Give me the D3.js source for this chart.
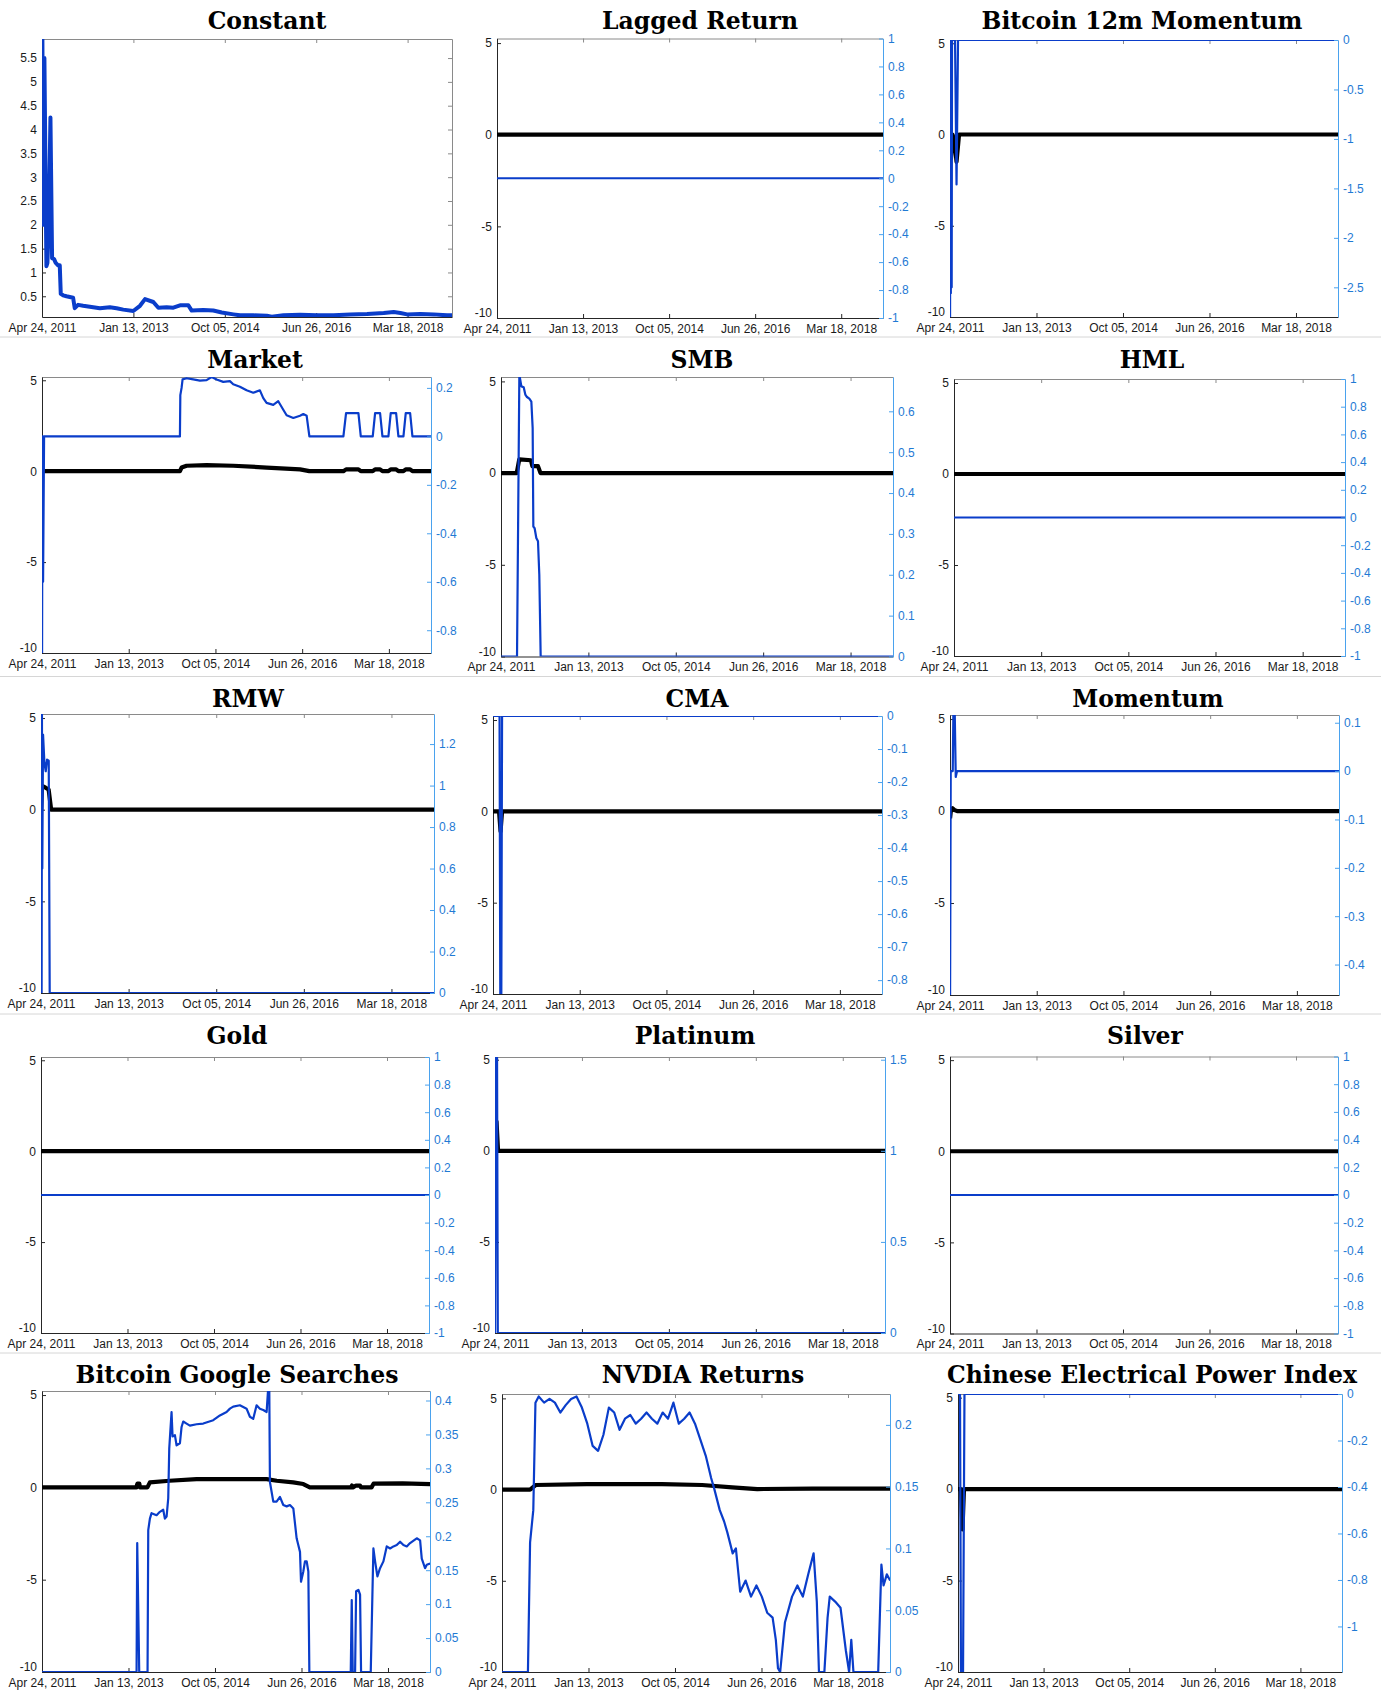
<!DOCTYPE html>
<html>
<head>
<meta charset="utf-8">
<script src="https://cdn.jsdelivr.net/npm/d3@7/dist/d3.min.js"></script>
<style>
    body { margin: 0; background: #fff; }
    svg { display: block; font-family: "Liberation Sans", Arial, sans-serif; }
    .panel-title { font-family: "DejaVu Serif", serif; font-weight: bold; font-size: 23.5px; text-anchor: middle; fill: #000; }
</style>
</head>
<body>
<svg id="chart" width="1381" height="1690"></svg>
<script>
// ---- data (x = decimal year, y = value) ----
const tickDates = ['2011-04-24', '2013-01-13', '2014-10-05', '2016-06-26', '2018-03-18'];
const tickLabels = ['Apr 24, 2011', 'Jan 13, 2013', 'Oct 05, 2014', 'Jun 26, 2016', 'Mar 18, 2018'];
const titles = ['Constant', 'Lagged Return', 'Bitcoin 12m Momentum', 'Market', 'SMB', 'HML',
    'RMW', 'CMA', 'Momentum', 'Gold', 'Platinum', 'Silver',
    'Bitcoin Google Searches', 'NVDIA Returns', 'Chinese Electrical Power Index'];

const flatZero = [[2011.31, 0], [2019.05, 0]];

const constantCoef = [[2011.311, 6.2], [2011.317, 5.9], [2011.336, 2.0], [2011.355, 5.5], [2011.393, 1.13],
    [2011.412, 1.2], [2011.437, 2.0], [2011.469, 4.25], [2011.500, 1.3], [2011.538, 1.28], [2011.569, 1.2],
    [2011.613, 1.15], [2011.645, 1.15], [2011.664, 0.55], [2011.708, 0.52], [2011.771, 0.5], [2011.897, 0.47],
    [2011.928, 0.25], [2011.991, 0.32], [2012.086, 0.3], [2012.212, 0.28], [2012.401, 0.25], [2012.590, 0.27],
    [2012.716, 0.25], [2012.842, 0.22], [2013.031, 0.19], [2013.157, 0.3], [2013.252, 0.44], [2013.409, 0.38],
    [2013.504, 0.26], [2013.661, 0.27], [2013.787, 0.26], [2013.913, 0.31], [2014.071, 0.31], [2014.134, 0.2],
    [2014.354, 0.21], [2014.543, 0.2], [2014.701, 0.16], [2014.921, 0.12], [2015.047, 0.1], [2015.299, 0.1],
    [2015.552, 0.09], [2015.646, 0.07], [2015.866, 0.1], [2016.181, 0.11], [2016.496, 0.1], [2016.811, 0.1],
    [2017.127, 0.12], [2017.442, 0.13], [2017.757, 0.15], [2017.946, 0.17], [2018.072, 0.15], [2018.198, 0.12],
    [2018.450, 0.13], [2018.701, 0.12], [2018.953, 0.1], [2019.05, 0.1]];

const laggedCoef = flatZero;
const laggedWeight = flatZero;

const btcMomCoef = [[2011.311, 0], [2011.33, -1.3], [2011.36, 0], [2011.40, -0.4], [2011.44, -1.5], [2011.49, 0], [2019.05, 0]];
const btcMomWeight = [[2011.311, -2.8], [2011.318, 0], [2011.326, -2.56], [2011.335, 0], [2011.343, -2.5], [2011.35, 0],
    [2011.41, 0], [2011.44, -1.46], [2011.47, 0], [2019.05, 0]];

const marketCoef = [[2011.311, 0], [2014.052, 0], [2014.085, 0.2], [2014.184, 0.3], [2014.583, 0.33], [2015.113, 0.3],
    [2015.777, 0.2], [2016.441, 0.1], [2016.627, 0], [2017.303, 0], [2017.356, 0.1], [2017.602, 0.1], [2017.649, 0],
    [2017.887, 0], [2017.934, 0.1], [2018.033, 0.1], [2018.08, 0], [2018.199, 0], [2018.245, 0.1], [2018.352, 0.1],
    [2018.398, 0], [2018.498, 0], [2018.544, 0.1], [2018.631, 0.1], [2018.677, 0], [2019.05, 0]];
const marketWeight = [[2011.311, -0.9], [2011.318, 0], [2011.331, -0.6], [2011.351, 0], [2014.052, 0], [2014.06, 0.17],
    [2014.085, 0.2], [2014.105, 0.235], [2014.184, 0.24], [2014.317, 0.235], [2014.45, 0.23], [2014.583, 0.232],
    [2014.682, 0.245], [2014.782, 0.235], [2014.915, 0.225], [2015.047, 0.228], [2015.113, 0.215], [2015.246, 0.205],
    [2015.379, 0.19], [2015.512, 0.18], [2015.644, 0.19], [2015.711, 0.158], [2015.777, 0.138], [2015.91, 0.13],
    [2016.009, 0.145], [2016.109, 0.11], [2016.175, 0.087], [2016.308, 0.076], [2016.441, 0.085], [2016.507, 0.092],
    [2016.573, 0.085], [2016.627, 0], [2017.303, 0], [2017.356, 0.096], [2017.602, 0.096], [2017.649, 0],
    [2017.887, 0], [2017.934, 0.096], [2018.033, 0.096], [2018.08, 0], [2018.199, 0], [2018.245, 0.096],
    [2018.352, 0.096], [2018.398, 0], [2018.498, 0], [2018.544, 0.096], [2018.631, 0.096], [2018.677, 0], [2019.05, 0]];

const smbCoef = [[2011.311, 0], [2011.62, 0], [2011.67, 0.75], [2011.90, 0.7], [2011.93, 0.38], [2012.04, 0.38], [2012.09, 0], [2019.05, 0]];
const smbWeight = [[2011.311, 0], [2011.626, 0], [2011.672, 0.69], [2011.712, 0.661], [2011.758, 0.659], [2011.790, 0.641],
    [2011.823, 0.635], [2011.869, 0.631], [2011.909, 0.624], [2011.935, 0.559], [2011.948, 0.318], [2011.974, 0.314],
    [2012.007, 0.29], [2012.040, 0.282], [2012.066, 0.2], [2012.093, 0], [2019.05, 0]];

const hmlCoef = flatZero;
const hmlWeight = flatZero;

const rmwCoef = [[2011.311, 0], [2011.33, 1.3], [2011.40, 1.2], [2011.46, 1.1], [2011.51, 0], [2019.05, 0]];
const rmwWeight = [[2011.311, 0], [2011.315, 1.35], [2011.322, 0], [2011.328, 1.35], [2011.335, 0.6], [2011.350, 1.246],
    [2011.377, 1.109], [2011.403, 1.069], [2011.429, 1.125], [2011.462, 1.12], [2011.481, 0], [2019.05, 0]];

const cmaCoef = [[2011.311, 0], [2011.43, 0], [2011.46, -1.1], [2011.49, 0], [2019.05, 0]];
const cmaWeight = [[2011.311, 0], [2011.44, 0], [2011.455, -0.85], [2011.475, -0.85], [2011.49, 0], [2019.05, 0]];

const momCoef = [[2011.311, -0.4], [2011.33, 0.1], [2011.36, 0.15], [2011.40, 0.05], [2011.45, 0], [2019.05, 0]];
const momWeight = [[2011.311, -0.47], [2011.324, 0], [2011.364, 0], [2011.377, 0.12], [2011.404, 0.12],
    [2011.424, -0.012], [2011.45, 0], [2019.05, 0]];

const goldCoef = flatZero;
const goldWeight = flatZero;

const platinumCoef = [[2011.311, 0], [2011.34, 1.6], [2011.37, 0], [2019.05, 0]];
const platinumWeight = [[2011.311, 0], [2011.325, 1.52], [2011.35, 1.52], [2011.365, 0], [2019.05, 0]];

const silverCoef = flatZero;
const silverWeight = flatZero;

const googleCoef = [[2011.311, 0], [2013.19, 0], [2013.21, 0.2], [2013.25, 0.2], [2013.26, 0], [2013.41, 0], [2013.46, 0.27],
    [2013.85, 0.36], [2014.39, 0.45], [2015.79, 0.45], [2015.99, 0.36], [2016.32, 0.27], [2016.52, 0.18], [2016.65, 0],
    [2017.47, 0], [2017.49, 0.1], [2017.51, 0], [2017.57, 0.1], [2017.65, 0.1], [2017.67, 0], [2017.88, 0],
    [2017.92, 0.2], [2018.5, 0.22], [2019.05, 0.18]];
const googleWeight = [[2011.311, 0], [2013.194, 0], [2013.207, 0.19], [2013.247, 0], [2013.413, 0], [2013.427, 0.209],
    [2013.460, 0.226], [2013.493, 0.234], [2013.593, 0.231], [2013.659, 0.236], [2013.726, 0.239], [2013.759, 0.226],
    [2013.793, 0.229], [2013.826, 0.256], [2013.846, 0.329], [2013.892, 0.383], [2013.912, 0.347], [2013.959, 0.349],
    [2013.992, 0.334], [2014.059, 0.337], [2014.092, 0.361], [2014.125, 0.369], [2014.192, 0.366], [2014.258, 0.363],
    [2014.391, 0.365], [2014.524, 0.366], [2014.724, 0.371], [2014.857, 0.378], [2014.990, 0.383], [2015.057, 0.388],
    [2015.123, 0.391], [2015.256, 0.393], [2015.389, 0.388], [2015.456, 0.376], [2015.522, 0.373], [2015.589, 0.393],
    [2015.655, 0.388], [2015.722, 0.386], [2015.789, 0.383], [2015.822, 0.42], [2015.842, 0.42], [2015.855, 0.28],
    [2015.922, 0.251], [2015.988, 0.251], [2016.055, 0.258], [2016.121, 0.246], [2016.188, 0.244], [2016.254, 0.246],
    [2016.321, 0.241], [2016.387, 0.197], [2016.420, 0.187], [2016.454, 0.177], [2016.474, 0.133], [2016.520, 0.148],
    [2016.553, 0.163], [2016.587, 0.163], [2016.620, 0.148], [2016.640, 0], [2017.465, 0], [2017.485, 0.106],
    [2017.505, 0], [2017.552, 0], [2017.572, 0.119], [2017.618, 0.121], [2017.651, 0.114], [2017.671, 0],
    [2017.864, 0], [2017.917, 0.182], [2017.951, 0.163], [2017.997, 0.141], [2018.050, 0.153], [2018.117, 0.163],
    [2018.183, 0.185], [2018.250, 0.182], [2018.317, 0.185], [2018.383, 0.187], [2018.450, 0.192], [2018.516, 0.187],
    [2018.583, 0.185], [2018.649, 0.19], [2018.782, 0.197], [2018.849, 0.194], [2018.882, 0.167], [2018.948, 0.153],
    [2018.982, 0.158], [2019.05, 0.16]];

const nvidiaCoef = [[2011.311, 0], [2011.87, 0], [2011.98, 0.25], [2013.0, 0.3], [2014.5, 0.3], [2015.3, 0.25],
    [2015.9, 0.12], [2016.4, 0.03], [2017.5, 0.05], [2019.05, 0.05]];
const nvidiaWeight = [[2011.311, 0], [2011.827, 0], [2011.870, 0.105], [2011.934, 0.131], [2011.977, 0.218],
    [2012.042, 0.223], [2012.149, 0.218], [2012.257, 0.221], [2012.364, 0.218], [2012.472, 0.21], [2012.579, 0.216],
    [2012.686, 0.221], [2012.794, 0.223], [2012.901, 0.214], [2013.009, 0.201], [2013.116, 0.183], [2013.224, 0.179],
    [2013.331, 0.192], [2013.439, 0.214], [2013.546, 0.21], [2013.653, 0.196], [2013.761, 0.205], [2013.868, 0.208],
    [2013.976, 0.201], [2014.083, 0.205], [2014.191, 0.21], [2014.298, 0.205], [2014.406, 0.201], [2014.513, 0.21],
    [2014.620, 0.205], [2014.728, 0.218], [2014.835, 0.201], [2014.943, 0.205], [2015.050, 0.21], [2015.158, 0.201],
    [2015.265, 0.188], [2015.373, 0.175], [2015.480, 0.157], [2015.544, 0.148], [2015.652, 0.131], [2015.738, 0.122],
    [2015.803, 0.113], [2015.910, 0.096], [2015.974, 0.1], [2016.060, 0.065], [2016.168, 0.074], [2016.275, 0.061],
    [2016.383, 0.07], [2016.490, 0.061], [2016.597, 0.048], [2016.705, 0.044], [2016.769, 0.026], [2016.812, 0.003],
    [2016.855, 0], [2016.95, 0.04], [2017.092, 0.061], [2017.199, 0.07], [2017.307, 0.061], [2017.414, 0.079],
    [2017.522, 0.096], [2017.586, 0.057], [2017.629, 0], [2017.737, 0], [2017.801, 0.044], [2017.844, 0.061],
    [2017.952, 0.057], [2018.059, 0.052], [2018.167, 0.017], [2018.231, 0], [2018.274, 0.026], [2018.317, 0],
    [2018.811, 0], [2018.875, 0.087], [2018.918, 0.07], [2018.983, 0.079], [2019.05, 0.074]];

const chinaCoef = [[2011.311, 0], [2011.37, 0], [2011.40, -2.2], [2011.43, 0], [2019.05, 0]];
const chinaWeight = [[2011.311, 0], [2011.35, 0], [2011.37, -1.25], [2011.41, -1.25], [2011.44, 0], [2019.05, 0]];

const leftTicks = [-10, -5, 0, 5];
const constantTicks = [0.5, 1, 1.5, 2, 2.5, 3, 3.5, 4, 4.5, 5, 5.5];
const unitTicks = [-1, -0.8, -0.6, -0.4, -0.2, 0, 0.2, 0.4, 0.6, 0.8, 1];

// ---- layout ----
const panels = [
    { x0: 42, x1: 452, y0: 39, y1: 317, tx: 267, ty: 29, left: [0.065, 5.9], lTicks: constantTicks, coef: null, weight: constantCoef, single: true },
    { x0: 497, x1: 883, y0: 38.5, y1: 318, tx: 700, ty: 29, left: [-10, 5.25], right: [-1, 1], rTicks: unitTicks, coef: laggedCoef, weight: laggedWeight },
    { x0: 950, x1: 1338, y0: 40, y1: 317, tx: 1142, ty: 28.5, left: [-10, 5.18], right: [-2.8, 0], rTicks: [-2.5, -2, -1.5, -1, -0.5, 0], coef: btcMomCoef, weight: btcMomWeight },
    { x0: 42, x1: 431, y0: 377, y1: 653, tx: 255, ty: 368, left: [-10, 5.18], right: [-0.894, 0.245], rTicks: [-0.8, -0.6, -0.4, -0.2, 0, 0.2], coef: marketCoef, weight: marketWeight },
    { x0: 501, x1: 893, y0: 377, y1: 656.5, tx: 702, ty: 368, left: [-10, 5.24], right: [0, 0.684], rTicks: [0, 0.1, 0.2, 0.3, 0.4, 0.5, 0.6], coef: smbCoef, weight: smbWeight },
    { x0: 954, x1: 1345, y0: 379, y1: 656, tx: 1152, ty: 368, left: [-10, 5.22], right: [-1, 1], rTicks: unitTicks, coef: hmlCoef, weight: hmlWeight },
    { x0: 41, x1: 434, y0: 714, y1: 993, tx: 248, ty: 707, left: [-10, 5.22], right: [0, 1.345], rTicks: [0, 0.2, 0.4, 0.6, 0.8, 1, 1.2], coef: rmwCoef, weight: rmwWeight },
    { x0: 493, x1: 882, y0: 716, y1: 994, tx: 697, ty: 707, left: [-10, 5.22], right: [-0.842, 0], rTicks: [-0.8, -0.7, -0.6, -0.5, -0.4, -0.3, -0.2, -0.1, 0], coef: cmaCoef, weight: cmaWeight },
    { x0: 950, x1: 1339, y0: 715, y1: 995, tx: 1148, ty: 707, left: [-10, 5.22], right: [-0.463, 0.116], rTicks: [-0.4, -0.3, -0.2, -0.1, 0, 0.1], coef: momCoef, weight: momWeight },
    { x0: 41, x1: 429, y0: 1057, y1: 1333, tx: 237, ty: 1044, left: [-10, 5.18], right: [-1, 1], rTicks: unitTicks, coef: goldCoef, weight: goldWeight },
    { x0: 495, x1: 885, y0: 1057, y1: 1333, tx: 695, ty: 1044, left: [-10, 5.15], right: [0, 1.515], rTicks: [0, 0.5, 1, 1.5], coef: platinumCoef, weight: platinumWeight },
    { x0: 950, x1: 1338, y0: 1056.5, y1: 1333.5, tx: 1145, ty: 1044, left: [-10, 5.2], right: [-1, 1], rTicks: unitTicks, coef: silverCoef, weight: silverWeight },
    { x0: 42, x1: 430, y0: 1391, y1: 1672, tx: 237, ty: 1383, left: [-10, 5.22], right: [0, 0.414], rTicks: [0, 0.05, 0.1, 0.15, 0.2, 0.25, 0.3, 0.35, 0.4], coef: googleCoef, weight: googleWeight },
    { x0: 502, x1: 890, y0: 1394, y1: 1672, tx: 703, ty: 1383, left: [-10, 5.24], right: [0, 0.225], rTicks: [0, 0.05, 0.1, 0.15, 0.2], coef: nvidiaCoef, weight: nvidiaWeight },
    { x0: 958, x1: 1342, y0: 1394, y1: 1672, tx: 1152, ty: 1383, left: [-10, 5.2], right: [-1.196, 0], rTicks: [-1, -0.8, -0.6, -0.4, -0.2, 0], coef: chinaCoef, weight: chinaWeight },
];

const BLUE = '#0a3dca';
const AXIS_BLUE = '#4aa2ee';
const LABEL_BLUE = '#1f7ad4';
const xDomain = [new Date(2011, 3, 24), new Date(2019, 0, 18)];
const parseDay = d3.timeParse('%Y-%m-%d');
const fmt = d => String(+d.toFixed(2));

const svg = d3.select('#chart');

// faint frames of the pasted screenshots
[337, 676.5, 1014, 1353].forEach(y => {
    svg.append('line').attr('x1', 0).attr('x2', 1381).attr('y1', y).attr('y2', y)
        .attr('stroke', '#d6d6d6').attr('stroke-width', 1);
});

panels.forEach((p, i) => drawPanel(p, i));

function yearToDate(y) {
    const yr = Math.floor(y);
    const a = new Date(yr, 0, 1), b = new Date(yr + 1, 0, 1);
    return new Date(+a + (y - yr) * (b - a));
}

function styleAxis(g, lineColor, textColor) {
    g.attr('font-family', '"Liberation Sans", Arial, sans-serif').attr('font-size', 12);
    g.select('.domain').attr('stroke', lineColor).attr('stroke-width', 1);
    g.selectAll('.tick line').attr('stroke', lineColor);
    g.selectAll('.tick text').attr('fill', textColor);
}

function drawPanel(p, i) {
    const x = d3.scaleTime().domain(xDomain).range([p.x0, p.x1]);
    const yL = d3.scaleLinear().domain(p.left).range([p.y1, p.y0]);
    const g = svg.append('g').attr('class', 'panel');

    const clipId = 'clip' + i;
    g.append('clipPath').attr('id', clipId).append('rect')
        .attr('x', p.x0).attr('y', p.y0).attr('width', p.x1 - p.x0).attr('height', p.y1 - p.y0);

    g.append('text').attr('class', 'panel-title').attr('x', p.tx).attr('y', p.ty).text(titles[i]);

    const dates = tickDates.map(parseDay);

    // top border with ticks
    const top = g.append('g').attr('transform', `translate(0,${p.y0})`)
        .call(d3.axisTop(x).tickValues(dates).tickFormat('').tickSizeInner(-4).tickSizeOuter(0));
    styleAxis(top, '#8a8a8a', '#000');

    const bottom = g.append('g').attr('transform', `translate(0,${p.y1})`)
        .call(d3.axisBottom(x).tickValues(dates).tickFormat((d, j) => tickLabels[j])
            .tickSizeInner(-4).tickSizeOuter(0).tickPadding(6));
    styleAxis(bottom, '#262626', '#1a1a1a');

    const leftAx = g.append('g').attr('transform', `translate(${p.x0},0)`)
        .call(d3.axisLeft(yL).tickValues(p.lTicks || leftTicks).tickFormat(fmt)
            .tickSizeInner(-4).tickSizeOuter(0).tickPadding(5));
    styleAxis(leftAx, '#262626', '#1a1a1a');
    // lift the bottom "-10" label clear of the first date label
    leftAx.selectAll('.tick text').filter(d => d === -10).attr('dy', '-0.12em');

    const lineG = g.append('g').attr('clip-path', `url(#${clipId})`);

    if (p.single) {
        const rightAx = g.append('g').attr('transform', `translate(${p.x1},0)`)
            .call(d3.axisRight(yL).tickValues(p.lTicks).tickFormat('').tickSizeInner(-4).tickSizeOuter(0));
        styleAxis(rightAx, '#8a8a8a', '#000');

        lineG.append('path').datum(p.weight)
            .attr('fill', 'none').attr('stroke', BLUE).attr('stroke-width', 4)
            .attr('stroke-linejoin', 'round')
            .attr('d', d3.line().x(d => x(yearToDate(d[0]))).y(d => yL(d[1])));
        return;
    }

    const yR = d3.scaleLinear().domain(p.right).range([p.y1, p.y0]);
    const rightAx = g.append('g').attr('transform', `translate(${p.x1},0)`)
        .call(d3.axisRight(yR).tickValues(p.rTicks).tickFormat(fmt)
            .tickSizeInner(-4).tickSizeOuter(0).tickPadding(5));
    styleAxis(rightAx, AXIS_BLUE, LABEL_BLUE);

    lineG.append('path').datum(p.coef)
        .attr('fill', 'none').attr('stroke', '#000').attr('stroke-width', 4.2)
        .attr('stroke-linejoin', 'round')
        .attr('d', d3.line().x(d => x(yearToDate(d[0]))).y(d => yL(d[1])));

    lineG.append('path').datum(p.weight)
        .attr('fill', 'none').attr('stroke', BLUE).attr('stroke-width', 2.2)
        .attr('stroke-linejoin', 'round')
        .attr('d', d3.line().x(d => x(yearToDate(d[0]))).y(d => yR(d[1])));
}
</script>
</body>
</html>
